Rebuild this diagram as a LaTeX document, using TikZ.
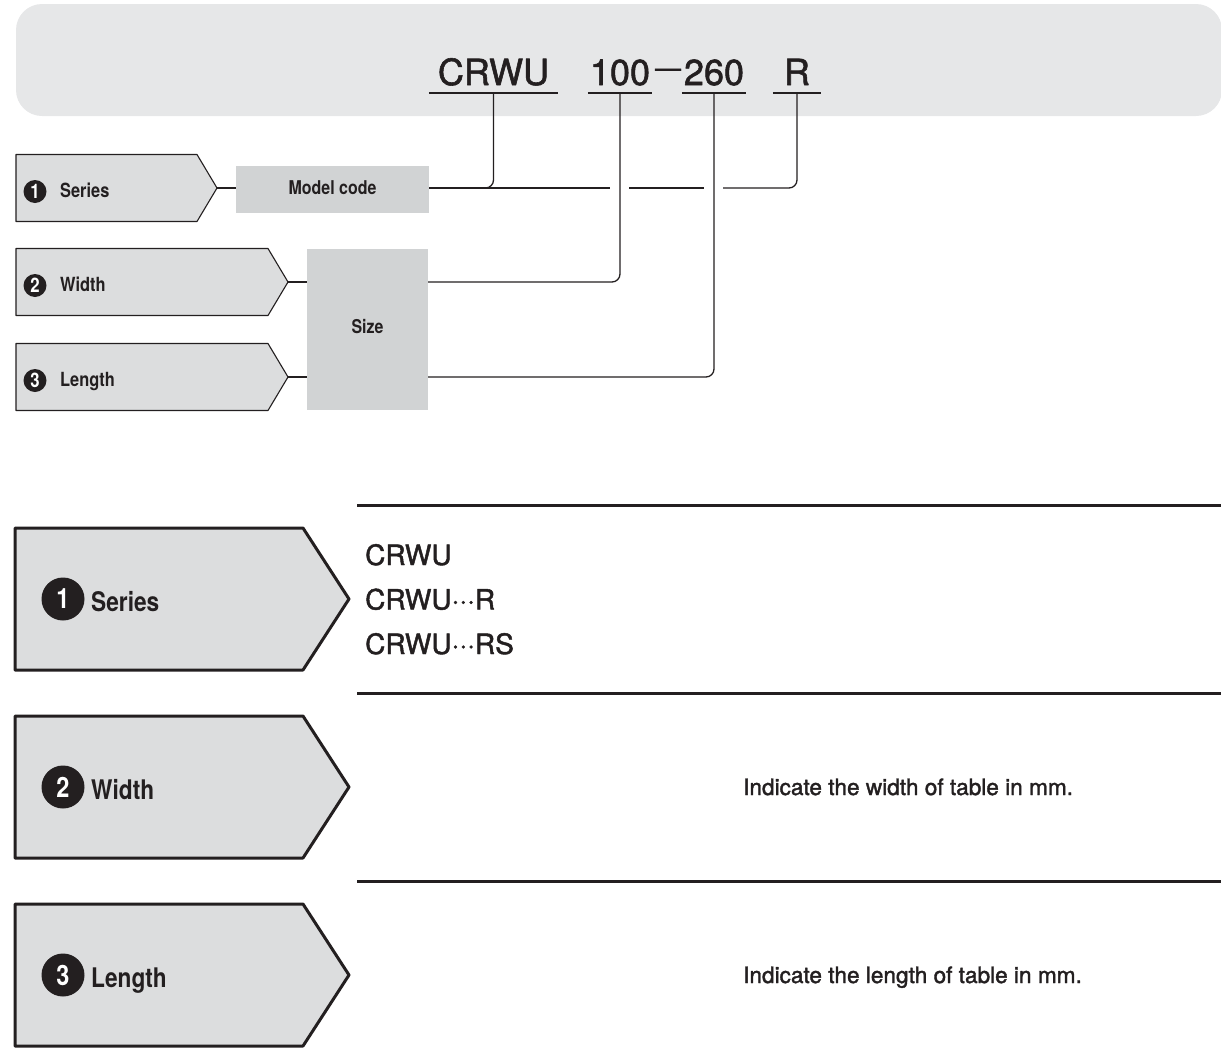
\documentclass[tikz,border=0pt]{standalone}
\usepackage{fontspec}
\setmainfont{TeX Gyre Heros}
\newfontfamily\condfont{TeX Gyre Heros}[FakeStretch=0.84]
\newfontfamily\medfont{TeX Gyre Heros}[FakeBold=1.6]
\usetikzlibrary{calc,positioning}
\definecolor{bandgray}{HTML}{E6E7E8}
\definecolor{boxgray}{HTML}{D1D3D4}
\definecolor{tabgray}{HTML}{DCDDDE}
\definecolor{ink}{HTML}{231F20}

\begin{document}
\begin{tikzpicture}[x=1pt, y=-1pt, line join=round, line cap=butt,
  codepart/.style={font=\medfont\fontsize{36}{40}\selectfont, text=ink, anchor=base,
    text depth=0pt, inner xsep=0pt, inner ysep=8pt},
  uline/.style={draw=ink, line width=1.6pt},
  conn/.style={draw=ink, line width=1.3pt, rounded corners=8pt},
  graybox/.style={fill=boxgray, inner sep=0pt, text=ink, font=\condfont\bfseries\fontsize{19}{22}\selectfont},
  smalltab/.style={draw=ink, line width=1.1pt, fill=tabgray},
  bigtab/.style={draw=ink, line width=3pt, fill=tabgray},
  smallnum/.style={circle, fill=ink, text=white, inner sep=0pt, minimum size=23pt,
    font=\condfont\bfseries\fontsize{20}{22}\selectfont},
  bignum/.style={circle, fill=ink, text=white, inner sep=0pt, minimum size=43pt,
    font=\condfont\bfseries\fontsize{28}{30}\selectfont},
  smalllab/.style={anchor=base west, inner sep=0pt, text=ink, font=\condfont\bfseries\fontsize{19.5}{22}\selectfont},
  biglab/.style={anchor=base west, inner sep=0pt, text=ink, font=\condfont\bfseries\fontsize{27}{30}\selectfont},
  listtext/.style={anchor=base west, inner sep=0pt, text=ink, font=\medfont\fontsize{28}{32}\selectfont},
  notetext/.style={anchor=base west, inner sep=0pt, text=ink, font=\medfont\fontsize{22.6}{26}\selectfont},
  rulethick/.style={draw=ink, line width=3pt}]
\useasboundingbox (0,0) rectangle (1221,1063);
\clip (0,0) rectangle (1221,1063);

% banner with the model code
\fill[bandgray, rounded corners=26pt] (16,4) rectangle (1222,116);
\node[codepart, minimum width=129pt] (cw) at (493.5,85) {CRWU};
\node[codepart, minimum width=64pt] (cn1) at (620,85) {100};
\node[codepart, minimum width=64pt] (cn2) at (714,85) {260};
\node[codepart, minimum width=48pt] (cr) at (797,85) {R};
\node[anchor=base, inner sep=0pt, text=ink, font=\medfont\fontsize{26}{28}\selectfont] (dsh) at (668,77) {—};
\foreach \p in {cw,cn1,cn2,cr}
  \draw[uline] (\p.south west) -- (\p.south east);

% small tabs
\foreach \i/\lab/\ty/\tx in {1/Series/188/217,2/Width/282/288,3/Length/377/288}{
  \draw[smalltab] (16,\ty-33.5) -- (\tx-20,\ty-33.5) -- (\tx,\ty) -- (\tx-20,\ty+33.5) -- (16,\ty+33.5) -- cycle;
  \coordinate (st\i) at (\tx,\ty);
  \node[smallnum] (sn\i) at (35,\ty+3.5) {\i};
  \node[smalllab] (sl\i) at (60,\ty+9) {\lab};
}
\node[graybox, minimum width=193pt, minimum height=47pt] (mc) at (332.5,189.5) {\raisebox{4pt}{Model code}};
\node[graybox, minimum width=121pt, minimum height=161pt] (sz) at (367.5,329.5) {\raisebox{6pt}{Size}};

% connectors
\draw[conn] (st1) -- (st1 -| mc.west);
\draw[conn] (st2) -- (st2 -| sz.west);
\draw[conn] (st3) -- (st3 -| sz.west);
\draw[conn] (cw.south) |- (mc.east |- st1);
\draw[conn] (mc.east |- st1) -- ($(cn1.south |- st1)+(-10,0)$);
\draw[conn] ($(cn1.south |- st1)+(9,0)$) -- ($(cn2.south |- st1)+(-10,0)$);
\draw[conn] ($(cn2.south |- st1)+(9,0)$) -| (cr.south);
\draw[conn] (cn1.south) |- (sz.east |- st2);
\draw[conn] (cn2.south) |- (sz.east |- st3);

% detail table
\foreach \y in {505,693,881}
  \draw[rulethick] (357,\y) -- (1221,\y);
\foreach \i/\lab/\ty in {1/Series/599,2/Width/787,3/Length/975}{
  \draw[bigtab] (15,\ty-71) -- (303,\ty-71) -- (349,\ty) -- (303,\ty+71) -- (15,\ty+71) -- cycle;
  \node[bignum] (bn\i) at (63,\ty) {\i};
  \node[biglab] (bl\i) at (91,\ty+12) {\lab};
}
\node[listtext] (ser1) at (365,565) {CRWU};
\node[listtext] (ser2) at (365,609.5) {CRWU···R};
\node[listtext] (ser3) at (365,654) {CRWU···RS};
\node[notetext] (wnote) at (743,795) {Indicate the width of table in mm.};
\node[notetext] (lnote) at (743,983) {Indicate the length of table in mm.};
\end{tikzpicture}
\end{document}
